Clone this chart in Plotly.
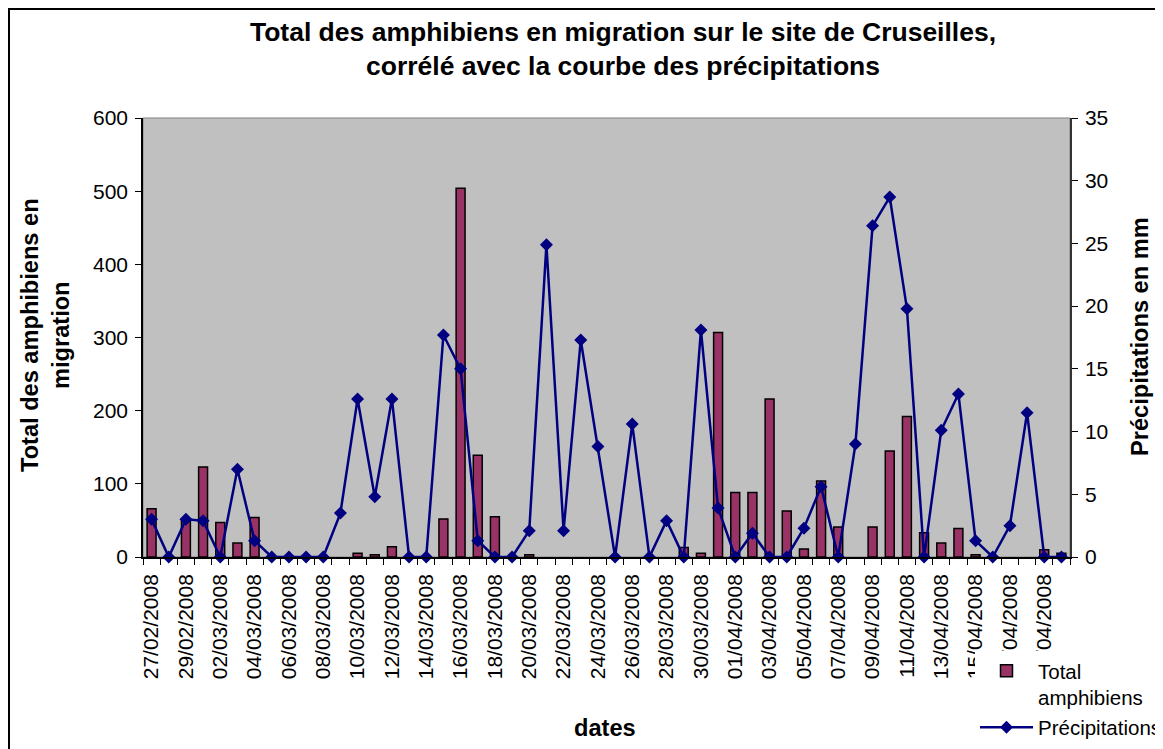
import plotly.graph_objects as go

dates = [
    "27/02/2008", "28/02/2008", "29/02/2008",
    "01/03/2008", "02/03/2008", "03/03/2008", "04/03/2008", "05/03/2008",
    "06/03/2008", "07/03/2008", "08/03/2008", "09/03/2008", "10/03/2008",
    "11/03/2008", "12/03/2008", "13/03/2008", "14/03/2008", "15/03/2008",
    "16/03/2008", "17/03/2008", "18/03/2008", "19/03/2008", "20/03/2008",
    "21/03/2008", "22/03/2008", "23/03/2008", "24/03/2008", "25/03/2008",
    "26/03/2008", "27/03/2008", "28/03/2008", "29/03/2008", "30/03/2008",
    "31/03/2008",
    "01/04/2008", "02/04/2008", "03/04/2008", "04/04/2008", "05/04/2008",
    "06/04/2008", "07/04/2008", "08/04/2008", "09/04/2008", "10/04/2008",
    "11/04/2008", "12/04/2008", "13/04/2008", "14/04/2008", "15/04/2008",
    "16/04/2008", "17/04/2008", "18/04/2008", "19/04/2008", "20/04/2008",
]

amphibiens = [
    66, 0, 50,
    123, 47, 19, 54, 0, 0, 0, 0, 0, 5,
    3, 14, 0, 0, 52, 504, 139, 55, 0, 3,
    0, 0, 0, 0, 0, 0, 0, 0, 13, 5,
    307,
    88, 88, 216, 63, 11, 104, 41, 0, 41, 145,
    192, 33, 19, 39, 3, 0, 0, 0, 10, 5,
]

precipitations = [
    3.0, 0, 3.0,
    2.9, 0, 7.0, 1.3, 0, 0, 0, 0, 3.5, 12.6,
    4.8, 12.6, 0, 0, 17.7, 15.0, 1.3, 0, 0, 2.1,
    24.9, 2.1, 17.3, 8.8, 0, 10.6, 0, 2.9, 0, 18.1,
    3.9,
    0, 1.9, 0, 0, 2.3, 5.6, 0, 9.0, 26.4, 28.7,
    19.8, 0, 10.1, 13.0, 1.3, 0, 2.5, 11.5, 0, 0,
]

tick_text = [d if i % 2 == 0 else "" for i, d in enumerate(dates)]
# empty days draw no bar (no outline stub on the axis)
bar_values = [v if v > 0 else None for v in amphibiens]

FONT = "Liberation Sans, Arial, sans-serif"

# page has an 8px body margin: figure origin sits at page (8, 8)
OFF = 8
PAGE_W, PAGE_H = 1163, 749
W, H = PAGE_W - OFF, PAGE_H - OFF
# plot area in page pixels
PL, PR, PT, PB = 143, 1070, 118, 557
pw, ph = PR - PL, PB - PT


def px(x):
    return (x - PL) / pw


def py(y):
    return (PB - y) / ph


fig = go.Figure()
fig.add_trace(go.Bar(
    x=dates, y=bar_values, name="Total<br>amphibiens",
    marker=dict(color="#993366", line=dict(color="black", width=1.5)),
    yaxis="y",
))
fig.add_trace(go.Scatter(
    x=dates, y=precipitations, name="Précipitations",
    mode="lines+markers",
    line=dict(color="#000080", width=2.5),
    marker=dict(symbol="diamond", size=10, color="#000080"),
    yaxis="y2", cliponaxis=False,
))

fig.update_layout(
    width=W, height=H,
    margin=dict(l=PL - OFF, r=PAGE_W - PR, t=PT - OFF, b=PAGE_H - PB, autoexpand=False),
    paper_bgcolor="white",
    plot_bgcolor="#C0C0C0",
    bargap=0.48,
    font=dict(family=FONT, size=21, color="black"),
    title=dict(
        text="Total des amphibiens en migration sur le site de Cruseilles,<br>corrélé avec la courbe des précipitations",
        x=(623 - OFF) / W, xanchor="center", xref="container",
        y=1 - 33 / H, yanchor="middle", yref="container",
        font=dict(family=FONT, size=26.5, color="black", weight="bold"),
    ),
    xaxis=dict(
        type="category",
        categoryorder="array", categoryarray=dates,
        range=[-0.5, len(dates) - 0.5],
        tickmode="array", tickvals=dates, ticktext=tick_text,
        tickson="boundaries",
        tickangle=-90,
        ticks="outside", ticklen=6, tickcolor="black", tickwidth=1,
        ticklabelstandoff=7,
        showline=True, linecolor="black", linewidth=1.5,
        showgrid=False, zeroline=False,
        tickfont=dict(family=FONT, size=21, color="black"),
        automargin=False,
    ),
    yaxis=dict(
        range=[0, 600], dtick=100,
        ticks="outside", ticklen=6, tickcolor="black",
        ticklabelstandoff=3,
        showline=True, linecolor="black", linewidth=1.5,
        showgrid=False, zeroline=False,
        tickfont=dict(family=FONT, size=21, color="black"),
        automargin=False,
    ),
    yaxis2=dict(
        range=[0, 35], dtick=5,
        overlaying="y", side="right",
        ticks="outside", ticklen=6, tickcolor="black",
        ticklabelstandoff=3,
        showline=True, linecolor="#333333", linewidth=1.5,
        showgrid=False, zeroline=False,
        tickfont=dict(family=FONT, size=21, color="black"),
        automargin=False,
    ),
    legend=dict(
        x=px(975), xanchor="left",
        y=py(651), yanchor="top",
        bgcolor="white", borderwidth=0,
        font=dict(family=FONT, size=20.5, color="black"),
        valign="top", tracegroupgap=0, itemwidth=53,
    ),
    showlegend=True,
    annotations=[
        dict(text="Total des amphibiens en<br>migration", textangle=-90,
             x=px(45), y=py(335), xref="paper", yref="paper",
             xanchor="center", yanchor="middle", showarrow=False,
             font=dict(family=FONT, size=23.6, color="black", weight="bold")),
        dict(text="Précipitations en mm", textangle=-90,
             x=px(1140), y=py(337), xref="paper", yref="paper",
             xanchor="center", yanchor="middle", showarrow=False,
             font=dict(family=FONT, size=23.6, color="black", weight="bold")),
        dict(text="dates",
             x=px(605), y=py(728), xref="paper", yref="paper",
             xanchor="center", yanchor="middle", showarrow=False,
             font=dict(family=FONT, size=23.6, color="black", weight="bold")),
    ],
    shapes=[
        dict(type="rect", xref="paper", yref="paper", x0=0, x1=1, y0=0, y1=1,
             line=dict(color="#808080", width=1), layer="below"),
        dict(type="rect", xref="paper", yref="paper",
             x0=px(9), x1=px(1175), y0=py(765), y1=py(9),
             line=dict(color="black", width=2), fillcolor="rgba(0,0,0,0)"),
    ],
)

fig.write_html("out.html")
